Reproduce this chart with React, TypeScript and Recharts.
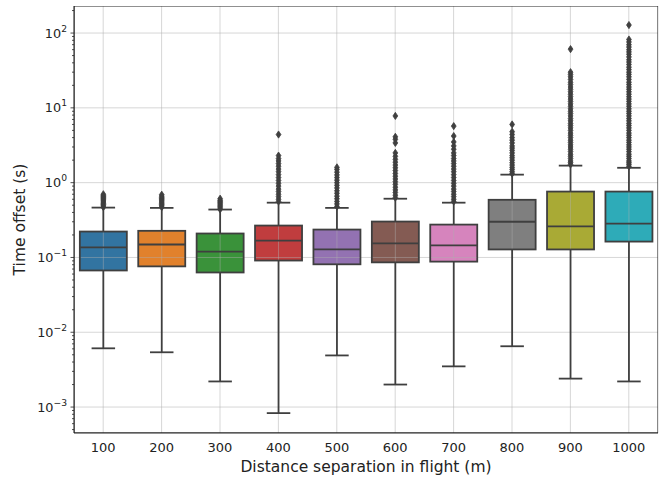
import { Bar, CartesianGrid, ComposedChart, ReferenceArea, XAxis, YAxis } from 'recharts';

const categories = ['100', '200', '300', '400', '500', '600', '700', '800', '900', '1000'];
const lowWhisker = [0.0061, 0.0054, 0.0022, 0.00083, 0.0049, 0.002, 0.0035, 0.0065, 0.0024, 0.0022];
const q1 = [0.067, 0.076, 0.063, 0.091, 0.081, 0.086, 0.088, 0.128, 0.128, 0.163];
const median = [0.136, 0.149, 0.12, 0.168, 0.128, 0.154, 0.145, 0.3, 0.26, 0.284];
const q3 = [0.222, 0.227, 0.209, 0.267, 0.236, 0.302, 0.275, 0.59, 0.76, 0.76];
const highWhisker = [0.464, 0.46, 0.437, 0.54, 0.46, 0.61, 0.54, 1.28, 1.69, 1.58];
const outliers = [
  [0.47, 0.49, 0.51, 0.53, 0.55, 0.57, 0.59, 0.61, 0.63, 0.65, 0.67, 0.7],
  [0.47, 0.49, 0.51, 0.53, 0.55, 0.57, 0.59, 0.61, 0.63, 0.66, 0.69],
  [0.44, 0.46, 0.48, 0.5, 0.52, 0.54, 0.56, 0.58, 0.61],
  [0.56, 0.6, 0.65, 0.7, 0.76, 0.82, 0.9, 0.98, 1.07, 1.17, 1.28, 1.4, 1.52, 1.66, 1.8, 1.95, 2.1, 2.3, 4.4],
  [0.48, 0.52, 0.56, 0.61, 0.66, 0.72, 0.78, 0.85, 0.92, 1.0, 1.08, 1.17, 1.27, 1.38, 1.5, 1.6],
  [0.63, 0.68, 0.74, 0.8, 0.87, 0.95, 1.03, 1.12, 1.22, 1.33, 1.45, 1.58, 1.72, 1.88, 2.05, 2.25, 2.5, 3.4, 3.8, 4.1, 7.8],
  [0.56, 0.6, 0.65, 0.7, 0.76, 0.82, 0.9, 0.98, 1.07, 1.17, 1.28, 1.4, 1.52, 1.66, 1.8, 1.95, 2.1, 2.3, 2.5, 2.8, 3.1, 3.5, 4.2, 5.7],
  [1.32, 1.4, 1.5, 1.6, 1.72, 1.85, 2.0, 2.15, 2.3, 2.5, 2.7, 2.9, 3.1, 3.4, 3.7, 4.0, 4.4, 4.8, 6.0],
  [1.75, 1.85, 1.95, 2.1, 2.25, 2.4, 2.6, 2.8, 3.0, 3.2, 3.45, 3.7, 4.0, 4.3, 4.6, 5.0, 5.4, 5.8, 6.2, 6.7, 7.2, 7.8, 8.4, 9.0, 9.7, 10.5, 11.3, 12.2, 13.1, 14.1, 15.2, 16.4, 17.7, 19, 20.5, 22, 24, 26, 28, 30, 61],
  [1.65, 1.75, 1.85, 1.95, 2.1, 2.25, 2.4, 2.6, 2.8, 3.0, 3.2, 3.45, 3.7, 4.0, 4.3, 4.6, 5.0, 5.4, 5.8, 6.2, 6.7, 7.2, 7.8, 8.4, 9.0, 9.7, 10.5, 11.3, 12.2, 13.1, 14.1, 15.2, 16.4, 17.7, 19, 20.5, 22, 24, 26, 28, 30, 32.5, 35, 38, 41, 44, 48, 52, 56, 60, 65, 70, 76, 82, 128],
];
const majorTicks = [0.001, 0.01, 0.1, 1, 10, 100];
const minorTicks = [
  0.0005, 0.0006, 0.0007, 0.0008, 0.0009,
  0.002, 0.003, 0.004, 0.005, 0.006, 0.007, 0.008, 0.009,
  0.02, 0.03, 0.04, 0.05, 0.06, 0.07, 0.08, 0.09,
  0.2, 0.3, 0.4, 0.5, 0.6, 0.7, 0.8, 0.9,
  2, 3, 4, 5, 6, 7, 8, 9,
  20, 30, 40, 50, 60, 70, 80, 90,
  200,
];
const yDomain = [0.00045, 230];

const palette = ['#3274a1', '#e1812c', '#3a923a', '#c03d3e', '#9372b2', '#845b53', '#d684bd', '#7f7f7f', '#a9aa35', '#2eabb8'];
const LINE = '#3f3f3f';
const GRID = '#b0b0b0';
const INK = '#222';
const FONT = 'DejaVu Sans, sans-serif';

const rows = categories.map((name, i) => ({
  name,
  box: [q1[i], q3[i]],
  lo: lowWhisker[i],
  med: median[i],
  hi: highWhisker[i],
  fliers: outliers[i],
}));

function BoxShape(props: any) {
  const { x, y, width, height, index, payload } = props;
  if (x == null || y == null) return null;
  const top = Math.min(y, y + height);
  const bot = Math.max(y, y + height);
  const [lq, uq] = payload.box;
  // log scale is linear in log10, so map any value from the box's two edges
  const perDecade = (bot - top) / (Math.log10(uq) - Math.log10(lq));
  const py = (v: number) => top + (Math.log10(uq) - Math.log10(v)) * perDecade;
  const cx = x + width / 2;
  const capHalf = width / 4;
  const yHi = py(payload.hi);
  const yLo = py(payload.lo);
  const yMed = py(payload.med);
  return (
    <g>
      <line x1={cx} x2={cx} y1={yHi} y2={top} stroke={LINE} strokeWidth={1.8} />
      <line x1={cx} x2={cx} y1={bot} y2={yLo} stroke={LINE} strokeWidth={1.8} />
      <line x1={cx - capHalf} x2={cx + capHalf} y1={yHi} y2={yHi} stroke={LINE} strokeWidth={1.8} />
      <line x1={cx - capHalf} x2={cx + capHalf} y1={yLo} y2={yLo} stroke={LINE} strokeWidth={1.8} />
      <rect x={x} y={top} width={width} height={bot - top} fill={palette[index]} stroke={LINE} strokeWidth={1.8} />
      {/* grid drawn over the box, as matplotlib does */}
      <line x1={cx} x2={cx} y1={top + 1} y2={bot - 1} stroke={GRID} strokeOpacity={0.5} strokeWidth={0.9} />
      {majorTicks
        .filter((t) => py(t) > top && py(t) < bot)
        .map((t) => (
          <line key={t} x1={x + 1} x2={x + width - 1} y1={py(t)} y2={py(t)} stroke={GRID} strokeOpacity={0.5} strokeWidth={0.9} />
        ))}
      <line x1={x} x2={x + width} y1={yMed} y2={yMed} stroke={LINE} strokeWidth={1.8} />
      {payload.fliers.map((v: number, k: number) => {
        const fy = py(v);
        return (
          <polygon
            key={k}
            points={`${cx},${fy - 3.6} ${cx + 2.4},${fy} ${cx},${fy + 3.6} ${cx - 2.4},${fy}`}
            fill={LINE}
            stroke={LINE}
            strokeWidth={0.8}
          />
        );
      })}
    </g>
  );
}

function YTick(props: any) {
  const { x, y, payload } = props;
  const v = payload.value;
  const exp = Math.round(Math.log10(v));
  const major = Math.abs(Math.log10(v) - exp) < 1e-6;
  if (!major) {
    return <line x1={x} x2={x - 2} y1={y} y2={y} stroke={INK} strokeWidth={0.8} />;
  }
  const expText = exp < 0 ? `\u2212${-exp}` : `${exp}`;
  return (
    <g>
      <line x1={x} x2={x - 3.5} y1={y} y2={y} stroke={INK} strokeWidth={0.8} />
      <text x={x - 7} y={y + 4.6} textAnchor="end" fontFamily={FONT} fontSize={12.8} fill={INK}>
        10
        <tspan fontSize={9.2} dy={-6}>
          {expText}
        </tspan>
      </text>
    </g>
  );
}

function YLabel(props: any) {
  const vb = props.viewBox;
  const cy = vb.y + vb.height / 2;
  return (
    <text x={20} y={cy} transform={`rotate(-90 20 ${cy})`} textAnchor="middle" dominantBaseline="central" fontFamily={FONT} fontSize={15.5} fill={INK}>
      Time offset (s)
    </text>
  );
}

function XLabel(props: any) {
  const vb = props.viewBox;
  return (
    <text x={vb.x + vb.width / 2} y={472} textAnchor="middle" fontFamily={FONT} fontSize={15.5} fill={INK}>
      Distance separation in flight (m)
    </text>
  );
}

export default function App() {
  return (
    <div style={{ position: 'absolute', left: 0, top: 0, background: '#fff' }}>
      <ComposedChart width={665} height={481} data={rows} margin={{ top: 6, right: 7, left: 0, bottom: 0 }} barCategoryGap="10%">
        <CartesianGrid stroke={GRID} strokeOpacity={0.5} horizontalValues={majorTicks} />
        <XAxis
          dataKey="name"
          height={48}
          interval={0}
          tickLine={false}
          tickSize={6}
          tickMargin={4}
          axisLine={{ stroke: INK, strokeWidth: 1 }}
          tick={{ fontFamily: FONT, fontSize: 13, fill: INK }}
          label={<XLabel />}
        />
        <YAxis
          scale="log"
          domain={yDomain}
          allowDataOverflow
          type="number"
          width={74}
          ticks={[...majorTicks, ...minorTicks]}
          interval={0}
          tickSize={0}
          tickMargin={0}
          tickLine={false}
          tick={<YTick />}
          axisLine={{ stroke: INK, strokeWidth: 1 }}
          label={<YLabel />}
        />
        <Bar dataKey="box" shape={<BoxShape />} isAnimationActive={false} />
        <ReferenceArea y1={yDomain[0]} y2={yDomain[1]} fill="none" fillOpacity={0} stroke={INK} strokeWidth={1} strokeOpacity={1} ifOverflow="hidden" />
      </ComposedChart>
    </div>
  );
}
